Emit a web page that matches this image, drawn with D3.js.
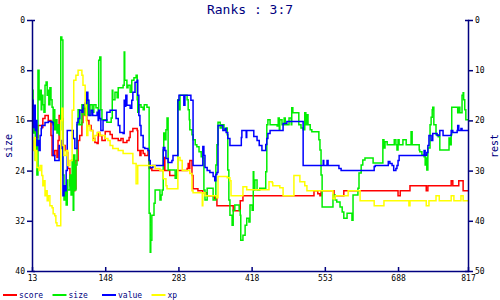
<!DOCTYPE html>
<html>
<head>
<meta charset="utf-8">
<script src="https://cdn.jsdelivr.net/npm/d3@7"></script>
<style>
  body { margin: 0; background: #fff; }
  svg { display: block; }
  .axis path, .axis line { stroke: #000080; stroke-width: 1.5; }
  .axis text { fill: #000; font-family: "DejaVu Sans Mono", monospace; font-size: 8px; }
  .ser { fill: none; stroke-width: 1.5; }
</style>
</head>
<body>
<div id="app"></div>
<script>
// ---- data ------------------------------------------------------------
var title = "Ranks : 3:7";
var xTicks = [13, 148, 283, 418, 553, 688, 817];
var sizeTicks = [0, 8, 16, 24, 32, 40];
var restTicks = [0, 10, 20, 30, 40, 50];
var names = ["score", "size", "value", "xp"];
var colors = ["#ff0000", "#00ee00", "#0000ff", "#ffff00"];

// [turn, rank] - score/value/xp read on the "rest" axis, size on the "size" axis
var score = [[13,16],[15,20],[19,22],[20,23.4],[24,21],[31,21.4],[33,19.6],[37,19],[43,20],[48,23],[50,27],[55,26],
  [59,27.4],[61,24],[63,19],[68,19.6],[70,25],[74,26],[78,26.4],[79,29.6],[83,33],[87,31],[89,34],[92,33.6],[94,28],
  [98,24],[101,23],[105,20.4],[107,17.6],[111,19],[114,20],[118,21],[122,22],[125,23.6],[129,24.4],[133,24.6],
  [135,22.4],[138,23],[142,24],[148,22.2],[157,22.8],[161,23.6],[172,24],[177,23.6],[181,24.4],[188,24],[192,23.4],
  [194,22.2],[199,21.6],[207,22],[208,26],[212,27],[214,26],[218,26.6],[221,27],[225,27],[227,26],[229,29.6],
  [234,30],[255,30],[257,27.4],[258,30],[267,31],[280,30],[299,29.6],[301,28.6],[303,29.6],[304,28],[308,31],
  [310,33.6],[319,34],[328,34.4],[336,35],[350,35.6],[354,37],[382,37],[384,38],[393,38],[397,36],[402,35],
  [531,35],[533,34],[540,34.6],[544,35],[546,34],[568,34],[570,35],[586,35],[588,34],[686,34],[688,35],[692,34],
  [710,33],[738,33],[740,34],[743,33],[784,33],[786,32],[789,33],[798,33],[800,32],[806,32],[808,34],[817,34]];

var size = [[13,11.2],[15,18],[17,14.3],[19,22.3],[20,19.1],[22,24.7],[24,8],[26,12.7],[28,11.2],[30,14.3],[31,12],
  [33,13.5],[35,14.7],[37,10.4],[39,9.9],[41,12],[43,11.2],[44,13.5],[46,10.8],[48,12.7],[50,13.9],[52,16.7],
  [54,14.3],[55,17.5],[57,15.9],[59,18],[61,16.7],[63,18.3],[65,17.5],[66,2.7],[68,3.2],[70,24.7],[72,28.7],
  [74,27.1],[76,29.5],[78,25.5],[79,27.1],[83,24.7],[85,27.9],[87,22.3],[89,30.3],[90,21.5],[92,27.1],[94,23.1],
  [96,16.7],[98,14.3],[101,16.7],[105,13.5],[109,15.1],[113,12.7],[116,15.1],[120,13.5],[124,14.7],[127,13.5],
  [131,14],[135,15.1],[136,6.4],[138,5.9],[140,14.3],[142,15.9],[151,16.3],[159,15.6],[161,11.2],[162,12.7],
  [166,11.5],[170,12.4],[172,10.8],[177,10.8],[181,10.4],[183,5.1],[184,9.6],[188,10.8],[190,10.4],[194,11.5],
  [197,9.6],[201,9.2],[205,8.8],[207,12.7],[208,14.7],[210,13.5],[214,13.9],[218,14.3],[220,13.5],[225,13.9],
  [229,30.8],[231,37],[232,35.1],[234,31.1],[238,29.2],[240,27.1],[249,28.7],[251,27.9],[253,27.1],[255,20.7],
  [256,18],[258,19.1],[260,17.5],[262,15.6],[264,23.9],[277,25.2],[280,23.9],[282,12.7],[284,14.3],[286,12],
  [299,12.7],[301,14.3],[303,15.9],[304,17.5],[308,18.3],[310,19.1],[314,19.9],[317,20.2],[321,21],[325,21.8],
  [328,22],[330,27.1],[332,28.7],[336,26.8],[347,28.7],[352,23.1],[354,19.9],[356,16.3],[360,17.2],[363,16.7],
  [367,17.5],[371,17.2],[373,18.3],[374,23.9],[376,28.7],[378,31.1],[382,32.7],[384,30.3],[387,29.5],[395,30.3],
  [397,31.1],[398,35.1],[402,34.3],[406,32.7],[409,31.6],[413,32.2],[415,29.5],[419,30.3],[421,24.2],[422,27.1],
  [424,25.5],[428,27.1],[433,26.8],[444,24.2],[446,16.7],[448,15.9],[452,16.7],[465,16.9],[467,15.6],[469,17.5],
  [470,15.9],[474,16.7],[478,15.6],[480,16.7],[487,15.6],[491,16.7],[492,14],[494,14.8],[505,16.7],[509,17.2],
  [513,17.5],[516,14.8],[518,16.7],[520,15.1],[522,16.7],[526,17.5],[529,17.8],[542,19.1],[544,20.7],[546,24.7],
  [548,29.8],[568,27.9],[572,28.7],[575,29],[581,29.8],[585,30.6],[588,31.6],[594,30.8],[603,31.9],[605,27.9],
  [614,26.8],[616,24.4],[620,23.1],[623,22.3],[627,22],[642,22.8],[660,19.1],[662,20.4],[664,19.4],[668,19.9],
  [681,19.1],[684,19.9],[686,20.7],[688,19.1],[690,19.9],[697,19.1],[703,19.9],[712,17.8],[714,19.9],[727,20.7],
  [728,21],[732,21.5],[736,21.8],[738,23.1],[740,22],[741,23.9],[743,20.4],[747,16.7],[749,15.5],[751,14.3],
  [752,13.9],[754,16.7],[758,18.3],[762,18.6],[765,20.7],[782,18.8],[784,19.9],[786,18.3],[787,13.9],[798,14.8],
  [800,13.9],[802,14.8],[806,12],[808,11.6],[809,12.7],[811,14.3],[813,15.9],[817,15.9]];

var value = [[13,16],[15,21.4],[17,17],[19,22],[20,20],[22,25],[24,24],[26,26],[28,23],[30,21.6],[31,21],[37,20.4],
  [43,20.2],[50,20.4],[52,27],[55,28],[61,28],[63,25],[65,25.6],[68,24],[70,35],[72,33],[74,34],[76,30],[78,22],
  [87,22],[89,23.6],[92,25.6],[96,20.4],[98,19.6],[101,18],[105,18.4],[107,17],[111,16.6],[114,14.4],[116,16],
  [118,19],[122,18],[125,19],[133,18.4],[135,20],[136,18],[138,19.6],[140,22],[144,20],[151,18.4],[157,18],
  [168,19.6],[172,21],[175,22.4],[181,22.6],[183,16],[184,17.2],[186,15],[188,17],[194,17.6],[197,16],[199,14.4],
  [203,12.4],[207,12],[208,15],[210,19],[212,21],[214,23],[218,25.4],[221,25.6],[227,26],[229,28],[231,29.4],
  [236,29],[255,25.4],[258,26],[260,27.6],[264,28.4],[271,28],[273,27],[282,16],[284,15],[293,17],[295,15],
  [306,16],[310,29],[328,25.2],[330,27],[332,29.4],[336,30],[341,30.4],[347,31.2],[350,32],[352,30.8],[354,30.4],
  [356,21],[365,22],[369,21.6],[371,22.4],[374,23.6],[378,25],[399,23.4],[400,22],[408,23.4],[409,22],[422,23.2],
  [428,24],[432,25],[437,26],[444,24.8],[446,23.6],[448,22.6],[452,22],[476,20.6],[483,20.2],[513,29],[550,28],
  [551,29],[557,28],[559,29],[579,29.6],[583,30],[644,29.2],[646,29],[670,28.2],[673,28.6],[677,29],[680,30],
  [684,29.6],[686,29],[688,28],[690,27],[736,26],[738,27],[741,26.4],[743,25],[745,23],[749,24],[752,22.6],
  [760,23],[765,22],[771,23],[786,22],[789,22.4],[797,22],[798,21],[800,22],[804,21.6],[806,22],[817,22]];

var xp = [[13,24],[15,26],[17,23.4],[19,28],[20,26],[22,29.4],[26,30],[28,29],[31,31],[33,33],[35,32],[37,35],
  [39,34],[41,36],[43,35],[46,37],[50,37.4],[52,38.6],[55,39],[57,40.4],[59,41],[66,20],[68,17.6],[70,25],[72,27],
  [76,26],[79,29],[83,28],[87,18],[90,12],[94,11],[98,10],[105,11],[107,13],[111,17],[113,20],[114,23],[116,21],
  [120,22],[125,24],[129,23],[133,22.4],[138,23],[148,23.6],[153,24],[157,25],[162,25.6],[172,26],[181,26.6],
  [199,28.6],[205,32.6],[208,29],[240,29.6],[249,30],[255,31.6],[260,33],[262,33.6],[282,27.4],[286,28],[290,30],
  [304,30.6],[308,34],[310,34.4],[327,37],[328,34.4],[332,35],[354,35.4],[356,31.2],[373,31.4],[378,32],[380,35],
  [402,33.2],[409,33.8],[450,32.2],[456,32.4],[457,33],[470,33.4],[476,35],[496,31],[507,32.2],[516,33],[520,34],
  [568,35.6],[572,35],[596,34],[618,36],[644,37],[662,36],[708,37],[710,36],[740,37],[745,36],[758,35],[764,36],
  [786,35],[791,36],[804,35],[808,36],[817,36]];

var series = [score, size, value, xp];

// ---- scales ----------------------------------------------------------
var x = d3.scaleLinear().domain([13, 817]).range([32, 468]);
var ySize = d3.scaleLinear().domain([0, 40]).range([20, 271]);
var yRest = d3.scaleLinear().domain([0, 50]).range([20, 271]);

var svg = d3.select("#app").append("svg")
  .attr("width", 500)
  .attr("height", 300);

// title
svg.append("text")
  .attr("x", 250).attr("y", 14)
  .attr("text-anchor", "middle")
  .attr("fill", "#000080")
  .style("font-family", "'DejaVu Sans Mono', monospace")
  .style("font-size", "13px")
  .text(title);

// lines
series.forEach(function(s, i) {
  var yy = (names[i] === "size") ? ySize : yRest;
  var line = d3.line()
    .x(function(d) { return x(d[0]); })
    .y(function(d) { return yy(d[1]); })
    .curve(d3.curveStepAfter);
  svg.append("path")
    .datum(s)
    .attr("class", "ser")
    .attr("stroke", colors[i])
    .attr("d", line);
});

// axes
svg.append("g")
  .attr("class", "axis")
  .attr("transform", "translate(32,0)")
  .call(d3.axisLeft(ySize).tickValues(sizeTicks).tickSize(5).tickSizeOuter(-3).tickPadding(2));

svg.append("g")
  .attr("class", "axis")
  .attr("transform", "translate(468,0)")
  .call(d3.axisRight(yRest).tickValues(restTicks).tickSize(5).tickSizeOuter(-3).tickPadding(2));

svg.append("g")
  .attr("class", "axis")
  .attr("transform", "translate(0,271)")
  .call(d3.axisBottom(x).tickValues(xTicks).tickSize(-4).tickSizeOuter(0).tickPadding(4));

// axis titles
svg.append("text")
  .attr("transform", "translate(12,146) rotate(-90)")
  .attr("text-anchor", "middle")
  .attr("fill", "#000080")
  .style("font-family", "'DejaVu Sans Mono', monospace")
  .style("font-size", "10px")
  .text("size");

svg.append("text")
  .attr("transform", "translate(498,146) rotate(-90)")
  .attr("text-anchor", "middle")
  .attr("fill", "#000080")
  .style("font-family", "'DejaVu Sans Mono', monospace")
  .style("font-size", "10px")
  .text("rest");

// legend
var leg = svg.append("g").selectAll("g")
  .data(names)
  .enter().append("g")
    .attr("transform", function(d, i) { return "translate(" + (3 + i * 49.5) + ",295)"; });
leg.append("line")
  .attr("x1", 0).attr("x2", 14)
  .attr("stroke", function(d, i) { return colors[i]; })
  .attr("stroke-width", 2);
leg.append("text")
  .attr("x", 16).attr("y", 3)
  .attr("fill", "#000080")
  .style("font-family", "'DejaVu Sans Mono', monospace")
  .style("font-size", "8px")
  .text(function(d) { return d; });
</script>
</body>
</html>
